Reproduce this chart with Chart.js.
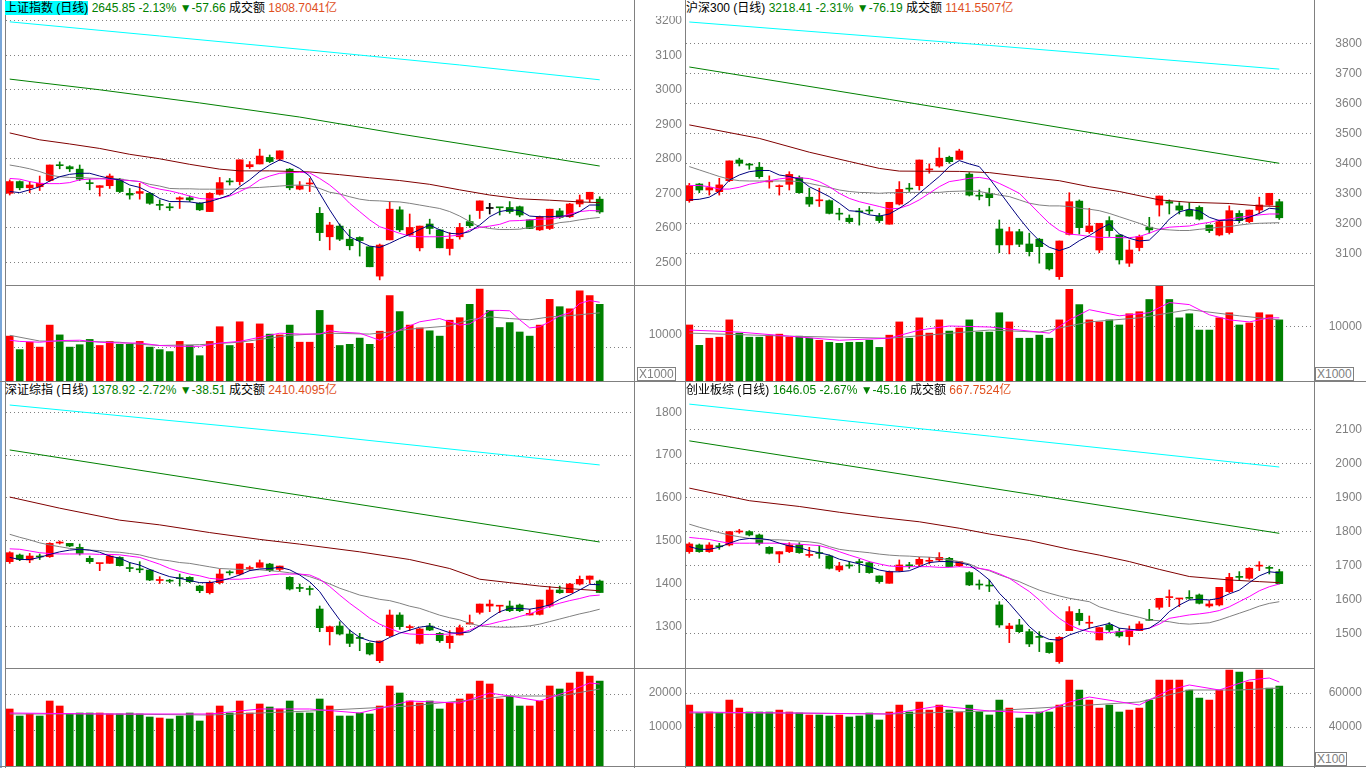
<!DOCTYPE html>
<html>
<head>
<meta charset="utf-8">
<script src="https://cdn.jsdelivr.net/npm/chart.js@4.4.1/dist/chart.umd.min.js"></script>
<style>
body { margin:0; background:#fff; width:1366px; height:768px; overflow:hidden; position:relative;
       font-family:"Liberation Sans", Arial, "Noto Sans CJK SC", sans-serif; }
canvas, .ln, .ttl, .unit { position:absolute; }
.ln { background:#808080; }
.ttl { font-size:12px; line-height:15px; white-space:nowrap; color:#000; }
.g { color:#008000; }
.o { color:#e0501e; }
.unit { border:1px solid #808080; color:#808080; font-size:12px; line-height:12px; padding:0 1px; background:#fff; }
</style>
</head>
<body>
<div class="ln" style="left:0;top:0;width:2px;height:768px;background:#7aa7d8"></div>
<div class="ln" style="left:5px;top:0;width:1px;height:768px"></div>
<div class="ln" style="left:634px;top:0;width:1px;height:768px"></div>
<div class="ln" style="left:685px;top:0;width:1px;height:768px"></div>
<div class="ln" style="left:1314px;top:0;width:1px;height:768px"></div>
<div class="ln" style="left:5px;top:285px;width:1310px;height:1px"></div>
<div class="ln" style="left:0;top:381px;width:1366px;height:1px"></div>
<div class="ln" style="left:5px;top:668px;width:1310px;height:1px"></div>
<div class="ln" style="left:0;top:766px;width:1366px;height:1px"></div>

<canvas id="tlP" width="628" height="269" style="left:6px;top:16px"></canvas>
<canvas id="tlV" width="628" height="95" style="left:6px;top:286px"></canvas>
<canvas id="trP" width="727" height="269" style="left:635px;top:16px"></canvas>
<canvas id="trV" width="727" height="95" style="left:635px;top:286px"></canvas>
<canvas id="blP" width="628" height="270" style="left:6px;top:398px"></canvas>
<canvas id="blV" width="628" height="97" style="left:6px;top:669px"></canvas>
<canvas id="brP" width="727" height="270" style="left:635px;top:398px"></canvas>
<canvas id="brV" width="727" height="97" style="left:635px;top:669px"></canvas>

<div class="ttl" style="left:5px;top:1px"><span style="background:#00ffff">上证指数 (日线)</span> <span class="g">2645.85 -2.13% ▼-57.66</span> 成交额 <span class="o">1808.7041亿</span></div>
<div class="ttl" style="left:686px;top:1px">沪深300 (日线) <span class="g">3218.41 -2.31% ▼-76.19</span> 成交额 <span class="o">1141.5507亿</span></div>
<div class="ttl" style="left:5px;top:383px">深证综指 (日线) <span class="g">1378.92 -2.72% ▼-38.51</span> 成交额 <span class="o">2410.4095亿</span></div>
<div class="ttl" style="left:686px;top:383px">创业板综 (日线) <span class="g">1646.05 -2.67% ▼-45.16</span> 成交额 <span class="o">667.7524亿</span></div>
<div class="unit" style="left:637px;top:367px">X1000</div>
<div class="unit" style="left:1315px;top:367px">X1000</div>
<div class="unit" style="left:1315px;top:752px">X100</div>

<script>
// ---- 上证指数 ----
var shOpen  = [2700,2734,2716,2719,2737,2782,2777,2770,2730,2717,2722,2741,2700,2700,2700,2666,2659,2683,2687,2671,2647,2697,2734,2734,2777,2785,2804,2799,2770,2712,2727,2642,2574,2605,2567,2572,2545,2460,2565,2652,2579,2542,2611,2594,2540,2574,2618,2650,2656,2659,2659,2661,2623,2594,2598,2649,2632,2669,2683,2683];
var shHigh  = [2739,2736,2734,2750,2782,2791,2780,2782,2741,2722,2756,2743,2714,2729,2702,2681,2671,2690,2692,2673,2702,2746,2743,2797,2792,2828,2811,2823,2772,2734,2743,2659,2616,2611,2595,2574,2545,2553,2676,2661,2640,2605,2625,2595,2586,2613,2637,2678,2671,2659,2676,2663,2623,2634,2654,2656,2671,2695,2703,2690];
var shLow   = [2695,2710,2702,2708,2734,2771,2763,2737,2710,2692,2714,2702,2683,2683,2668,2652,2650,2656,2676,2650,2647,2695,2724,2724,2772,2785,2789,2795,2710,2710,2705,2563,2536,2563,2536,2518,2487,2449,2565,2589,2576,2533,2582,2542,2521,2567,2601,2627,2640,2637,2642,2632,2598,2592,2595,2627,2630,2661,2674,2642];
var shClose = [2734,2716,2724,2729,2782,2780,2771,2741,2728,2722,2750,2705,2695,2705,2671,2665,2658,2687,2681,2652,2700,2731,2733,2797,2783,2808,2792,2823,2716,2722,2730,2586,2608,2567,2548,2563,2487,2550,2654,2594,2601,2605,2598,2542,2567,2601,2606,2678,2656,2658,2647,2637,2598,2632,2654,2630,2669,2681,2703,2646];
var shMa5  = [2705,2702,2710,2719,2736,2748,2755,2758,2758,2750,2743,2739,2724,2717,2702,2685,2676,2676,2675,2671,2676,2685,2695,2719,2739,2763,2782,2797,2787,2772,2750,2700,2652,2608,2574,2560,2547,2543,2555,2569,2581,2595,2608,2594,2584,2582,2589,2608,2632,2647,2652,2650,2634,2632,2632,2634,2634,2647,2666,2666];
var shMa10 = [2743,2741,2734,2729,2728,2728,2731,2739,2741,2742,2741,2739,2737,2734,2719,2712,2707,2700,2692,2685,2683,2685,2692,2705,2719,2739,2750,2758,2760,2761,2759,2743,2724,2700,2671,2647,2623,2603,2594,2584,2576,2574,2574,2574,2576,2579,2594,2601,2605,2610,2620,2621,2623,2625,2626,2630,2640,2647,2650,2649];
var shMa20 = [2782,2777,2771,2763,2753,2748,2746,2746,2744,2743,2743,2741,2737,2734,2726,2721,2714,2713,2713,2712,2712,2712,2712,2713,2716,2717,2719,2721,2723,2724,2722,2714,2703,2698,2690,2683,2679,2678,2676,2675,2671,2666,2661,2656,2647,2634,2618,2603,2598,2595,2595,2596,2601,2605,2608,2615,2618,2623,2627,2630];
var shMa60Idx = [0,3,6,9,12,15,18,21,23,26,30,33,36,39,42,45,48,51,54,57,59];
var shMa60 = [2875,2855,2843,2830,2813,2800,2784,2770,2765,2765,2762,2754,2745,2737,2726,2710,2695,2684,2680,2675,2673];
var shMa120Idx = [0,9,19,29,39,49,59];
var shMa120 = [3031,3000,2962,2921,2872,2826,2779];
var shMa250Idx = [0,15,30,45,59];
var shMa250 = [3197,3156,3115,3072,3029];
var shVol = [13600,9510,11760,10270,16940,13970,10270,11000,12600,10760,12000,11120,11120,12000,10270,9510,8910,12000,10760,7670,12000,16450,10760,17940,11390,17300,14210,13970,16940,11760,11760,21390,16940,10760,11120,13000,11120,15090,25850,21030,16940,16090,15210,13600,18420,19180,23240,27820,21390,16210,17700,14850,13600,16940,24730,22510,21880,27330,25850,23240];
var shVolMa5Idx = [0,1,3,5,7,9,11,13,15,17,19,21,23,25,27,29,31,32,33,35,37,39,41,43,44,45,46,47,48,49,50,51,52,53,54,55,56,57,58,59];
var shVolMa5 = [12360,12000,11760,12240,12360,11760,11510,11510,10760,10510,10510,11510,12000,13240,14480,14220,14220,15210,14850,14480,12360,15450,17940,18910,17940,16940,17300,19180,21390,21390,21270,18540,16090,16450,17940,19790,20660,23510,24360,23870];
var shVolMa10Idx = [0,3,7,11,13,15,19,23,28,32,36,38,40,44,46,48,50,52,54,56,59];
var shVolMa10 = [13850,12120,12000,11750,11130,10760,11010,11750,13850,14470,14220,14840,15710,16700,18550,19420,18920,18550,19420,19790,20650];

// ---- 沪深300 ----
var hsOpen  = [3275.5,3331,3311,3305.5,3342,3411,3395,3387,3338,3322,3330,3352,3287,3275,3275.5,3231.5,3217,3239,3242,3224,3197,3264,3315,3325.5,3378,3391,3420,3413,3364,3291.5,3300,3181,3128,3172,3131,3147,3100,3022,3163,3274,3172,3111,3209,3161,3067,3119,3187,3261,3272,3258,3244,3253,3194,3161,3169,3233,3205.5,3244,3261,3272];
var hsHigh  = [3333,3333,3337,3350,3408,3417,3400,3403,3358,3328,3372,3358,3317,3317,3278,3250,3228,3250,3256,3233,3270,3339,3333,3411,3398,3452,3424,3447,3369,3311,3317,3211,3187,3180,3167,3150,3100,3141,3302,3278,3250,3200,3222,3161,3144,3161,3220,3291,3278,3269,3269,3258,3194,3209,3258,3242,3244,3287,3300,3280];
var hsLow   = [3270,3302,3294,3294,3339,3391,3380,3350,3317,3294,3311,3300,3256,3256,3231,3211,3200,3194,3231,3202,3197,3261,3306,3311,3367,3387,3400,3413,3291,3278,3258,3102,3098,3122,3091,3067,3044,3013,3161,3164,3167,3102,3156,3064,3056,3108,3167,3224,3231,3231,3224,3211,3169,3158,3164,3202,3202,3233,3260,3213];
var hsClose = [3325.5,3311,3319,3328,3408,3400,3394,3355.5,3341,3324.5,3363,3302,3264,3278,3233,3230.5,3205.5,3238,3241,3209,3270,3313,3314,3411,3380,3417,3405.5,3441,3294,3290.5,3285.5,3128,3172,3130,3105.5,3122,3048,3141,3272,3185.5,3191,3200,3175.5,3078,3111,3155.5,3178,3291,3267,3244,3224,3214,3175.5,3205.5,3242,3209,3244,3261,3300,3218.4];
var hsMa5  = [3278,3280,3287,3306,3344,3361,3372,3376,3376,3361,3356,3347,3322,3306,3289,3267,3242,3239,3228,3224,3231,3250,3272,3300,3328,3356,3389,3409,3398,3389,3350,3306,3261,3217,3176,3142,3120,3109,3120,3142,3159,3180,3198,3164,3150,3141,3144,3176,3214,3238,3247,3241,3220,3209,3211,3209,3220,3233,3250,3247];
var hsMa10 = [3326,3326,3322,3314,3314,3320,3330,3336,3342,3348,3352,3352,3349,3339,3322,3300,3283,3272,3264,3256,3248,3250,3261,3278,3300,3322,3339,3344,3350,3353,3347,3333,3317,3300,3267,3233,3200,3176,3164,3161,3156,3153,3153,3152,3152,3156,3167,3180,3187,3189,3191,3198,3203,3211,3214,3220,3224,3228,3231,3231];
var hsMa20 = [3389,3378,3367,3356,3347,3342,3341,3341,3341,3341,3341,3339,3333,3326,3319,3311,3306,3303,3302,3300,3302,3302,3303,3303,3303,3303,3306,3307,3308,3306,3300,3294,3289,3278,3267,3261,3258,3258,3256,3250,3247,3242,3233,3222,3211,3200,3187,3180,3178,3176,3176,3180,3183,3187,3189,3194,3198,3200,3201,3202];
var hsMa60Idx = [0,7,12,16,19,21,27,30,34,37,40,43,47,50,54,57,59];
var hsMa60 = [3528,3483,3437,3406,3383,3374,3373,3369,3353,3342,3322,3306,3278,3270,3266,3258,3256];
var hsMa120Idx = [0,20,44,59];
var hsMa120 = [3721,3613,3481,3400];
var hsMa250Idx = [0,30,59];
var hsMa250 = [3871,3793,3714];
var hsVol = [10318,6566,7879,8067,11256,8817,8067,8067,8442,8630,8067,8254,7879,7504,7129,6941,7129,7129,7504,6191,8442,10881,7879,11631,8817,11256,9192,9755,11256,9005,9005,12569,10881,7879,7879,8442,7879,11256,16884,14070,11256,10881,11256,10318,12382,12757,15008,17447,15008,11631,12382,9380,9380,11631,12569,10318,10693,12569,12194,11256];
var hsVolMa5Idx = [0,5,10,15,20,23,26,30,33,36,38,40,43,46,48,50,52,54,56,58,59];
var hsVolMa5 = [9380,9005,8255,7504,7879,9380,10130,9943,9380,8817,11256,13132,12007,12570,14446,14070,12195,11256,10881,11631,11631];
var hsVolMa10Idx = [0,10,20,30,35,40,45,50,55,59];
var hsVolMa10 = [8817,8255,7879,9380,9005,10881,11631,13132,12007,11256];

// ---- 深证综指 ----
var szOpen  = [1451,1466.5,1455,1463,1462.6,1494.5,1493.8,1484.4,1458.8,1446.5,1447.1,1461,1436,1433,1431.5,1407,1406,1412,1414.4,1394.1,1378.5,1401.9,1425.5,1422.2,1435,1437.7,1445.5,1433,1414.4,1389,1386.5,1340.4,1287.4,1300.7,1282,1272,1260.2,1219.7,1278.1,1326.4,1297,1260.2,1300.7,1283.6,1261.8,1279.7,1305.3,1332.6,1347.4,1347,1347.4,1349.7,1326.4,1327.9,1347.4,1384.8,1378.5,1398.8,1409.7,1405.8];
var szHigh  = [1474.3,1468.9,1470.4,1469,1495.3,1499.2,1493.8,1492.2,1464.2,1447.1,1466.5,1462.6,1448.6,1451,1433,1415.9,1409.7,1422.2,1415.9,1395.7,1405.8,1433,1430,1445.5,1440.8,1454.9,1447.1,1440.8,1415.9,1398.8,1394.1,1347.4,1300.7,1310.8,1291.3,1283.6,1261.8,1265.6,1338.1,1331.8,1303,1295.2,1306.9,1285.9,1289.8,1303,1326.4,1352,1361.4,1347.4,1359.1,1352,1339.6,1361.4,1392.6,1394.1,1400.3,1417.5,1417.5,1408.1];
var szLow   = [1447,1453.3,1448.6,1456,1461,1492.2,1486,1466.5,1447,1430,1447.1,1440.8,1427.6,1425.3,1406.6,1400.3,1401.9,1394.1,1401.9,1378.5,1375.4,1398.8,1419.8,1419.8,1430,1437.7,1427.6,1430,1384.8,1380.9,1373.1,1287.4,1256.3,1279.7,1252.4,1243,1233,1215,1275.8,1292.9,1289.8,1258.6,1289.8,1262.5,1248.5,1279.7,1305.3,1328.7,1334.2,1331.8,1334.2,1334.2,1326.4,1326.4,1344.3,1377,1378.5,1396.4,1400.3,1378.5];
var szClose = [1472,1456.4,1464.2,1462,1493.8,1495.3,1487.6,1470.4,1451,1447.1,1464.2,1441.6,1435,1432,1408.1,1408.3,1405.5,1411.4,1404.2,1383.2,1402.7,1422.2,1425,1445.5,1436,1448.6,1430,1440.8,1387.1,1388.5,1386,1296.8,1299,1282,1260.2,1271.7,1235.3,1265.6,1326.4,1299.1,1298.3,1293.7,1291.3,1266.4,1277.3,1296.8,1308.4,1352,1352,1347.4,1336.5,1336.5,1330.3,1361.4,1384.8,1378.5,1398.8,1409.7,1417.5,1378.9];
var szMa5  = [1461,1456,1456,1461,1468,1474,1478,1480,1478,1473,1464,1459,1449,1443,1433,1424,1416,1412,1407,1402,1402,1406,1412,1420,1430,1434,1435,1438,1432,1420,1404,1381,1347,1315,1291,1274,1266,1262,1274,1284,1291,1298,1301,1293,1285,1284,1287,1301,1319,1334,1342,1342,1340,1344,1350,1363,1373,1385,1398,1397];
var szMa10 = [1481,1480,1476,1472,1470,1469,1469,1469,1469,1468,1468,1467,1464,1461,1453,1445,1435,1428,1422,1418,1412,1410,1410,1410,1412,1416,1420,1422,1422,1422,1420,1410,1393,1373,1354,1337,1319,1305,1295,1286,1282,1281,1281,1281,1282,1284,1291,1301,1305,1311,1316,1323,1329,1338,1347,1354,1360,1365,1371,1373];
var szMa20 = [1515,1508,1502,1495,1490,1486,1482,1480,1478,1477,1474,1473,1470,1467,1461,1456,1453,1449,1447,1443,1439,1435,1434,1433,1432,1432,1430,1428,1425,1422,1416,1408,1399,1389,1381,1373,1368,1363,1360,1354,1347,1342,1334,1326,1320,1315,1307,1301,1299,1298,1298,1299,1301,1305,1311,1317,1323,1329,1334,1340];
var szMa60Idx = [0,5,11,15,20,25,29,35,40,44,47,50,53,56,59];
var szMa60 = [1602,1576,1548,1537,1519,1503,1492,1474,1456,1435,1410,1402,1394,1388,1383];
var szMa120Idx = [0,59];
var szMa120 = [1712,1497];
var szMa250Idx = [0,30,59];
var szMa250 = [1817,1749,1677];
var szVol = [15835,13890,14446,13890,18057,16668,14446,14723,14723,14723,14446,14446,14723,14446,13612,13334,13057,13890,14723,12501,14723,16668,14723,18057,14723,17224,16390,15835,18057,14723,14723,18613,16668,13890,13890,14723,14446,16668,22224,20279,18057,17501,18057,15835,17501,18613,20002,23613,22780,18613,19446,16668,16668,18057,22224,21391,23057,26113,25002,23613];
var szVolMa5Idx = [0,10,20,25,30,35,38,40,45,48,50,53,56,58,59];
var szVolMa5 = [14723,14446,14446,15835,15835,14723,16668,18057,17501,20279,19446,18057,20835,23057,22780];
var szVolMa10Idx = [0,10,20,30,40,45,50,55,59];
var szVolMa10 = [14446,14446,14168,15279,16668,18057,19446,19446,21391];

// ---- 创业板综 ----
var cyOpen  = [1740.2,1759.8,1740.2,1755,1759.8,1798,1799,1789.2,1752.9,1733.3,1740.2,1759.8,1729,1735,1727.5,1686.3,1698.5,1710.8,1707.8,1668.7,1647.1,1684.4,1699,1702.9,1711.8,1715.7,1720.6,1699,1678.5,1642.4,1639.4,1583.4,1513.8,1524.6,1504.9,1488.5,1472.6,1416.8,1507.9,1558.9,1529.6,1480.5,1524.6,1504.9,1490.3,1507.9,1540,1576.5,1605,1601,1603.5,1612.8,1580.4,1583.4,1622.6,1665,1661.8,1697.5,1691.5,1681.4];
var cyHigh  = [1766.6,1762.7,1766.6,1764.7,1799,1805.9,1801.9,1792.1,1754.9,1740.2,1766.6,1766.6,1752.9,1756.9,1730.4,1708.8,1710.8,1717.6,1710.8,1668.7,1683.4,1715.7,1708.8,1723.5,1723.5,1737.3,1723.5,1710.8,1681.4,1656.9,1656.9,1593.2,1529.5,1541.2,1511.9,1504.9,1472.6,1490.3,1578.5,1570.7,1551,1516.8,1531.5,1514.8,1521.6,1534.4,1570.7,1603,1627.5,1601.5,1625.5,1615.7,1596.1,1635.3,1676.5,1681.4,1693.2,1710.8,1698,1688.3];
var cyLow   = [1735.3,1738.2,1738.2,1747,1756.9,1794.1,1786.3,1759.8,1733.3,1707.8,1737.3,1735.3,1723.5,1720.6,1689.2,1681.4,1691.2,1678.5,1676.5,1647.1,1647.1,1681.4,1691.2,1698,1703.9,1710.8,1696.1,1696.1,1640.2,1629.4,1622.6,1517.7,1472.6,1502,1460.9,1446.2,1441.3,1411.9,1507.9,1524.6,1514.8,1480.5,1505,1488.3,1465.8,1507.9,1537.3,1570.7,1578.5,1578.5,1600,1586.3,1576.5,1580.4,1619.6,1656.9,1658.8,1684.3,1674.5,1645.1];
var cyClose = [1762.7,1740.2,1759.8,1754.5,1799,1799,1789.2,1764.7,1735.3,1740.2,1759.8,1737.3,1730.4,1734.5,1691.2,1698,1698,1707.8,1678.5,1652,1681.4,1701,1698.5,1717.6,1712.8,1723.5,1696.1,1710.8,1642.2,1642,1639,1524.6,1521.6,1504.9,1468.7,1488,1443.3,1488.3,1563.8,1537.3,1530.6,1516.8,1509.9,1492.3,1509.9,1527.5,1538.2,1603,1606,1601.5,1603,1588.3,1586.3,1635.3,1664.7,1664.5,1691.2,1698.1,1691,1646.1];
var cyMa5  = [1755,1747,1747,1753,1765,1775,1779,1779,1775,1765,1757,1752,1743,1737,1730,1718,1711,1704,1696,1686,1681,1681,1684,1696,1708,1711,1711,1708,1701,1681,1657,1618,1588,1554,1520,1495,1482,1480,1495,1505,1515,1522,1529,1515,1512,1510,1515,1534,1564,1583,1598,1600,1598,1603,1616,1627,1649,1669,1681,1678];
var cyMa10 = [1782,1779,1776,1770,1765,1765,1765,1765,1765,1765,1763,1762,1760,1758,1750,1740,1730,1721,1711,1704,1698,1696,1696,1696,1696,1694,1694,1696,1694,1691,1686,1675,1662,1642,1623,1598,1569,1544,1525,1512,1505,1502,1502,1505,1508,1510,1515,1527,1544,1549,1554,1557,1561,1567,1578,1593,1608,1625,1637,1645];
var cyMa20 = [1821,1812,1804,1796,1789,1784,1779,1776,1775,1775,1773,1771,1769,1765,1755,1747,1743,1740,1737,1733,1730,1728,1727,1725,1724,1721,1716,1711,1704,1691,1684,1672,1662,1652,1639,1627,1618,1610,1603,1598,1593,1578,1569,1561,1554,1547,1539,1537,1534,1529,1527,1529,1531,1539,1549,1559,1569,1580,1588,1593];
var cyMa60Idx = [0,6,11,15,19,23,27,30,34,38,41,44,47,50,54,57,59];
var cyMa60 = [1927,1890,1873,1856,1841,1828,1809,1792,1773,1747,1730,1711,1688,1667,1657,1652,1649];
var cyMa120Idx = [0,59];
var cyMa120 = [2066,1794];
var cyMa250Idx = [0,30,59];
var cyMa250 = [2174,2080,1989];
var cyVol = [52942,48236,48824,48236,55883,51177,48824,48824,48824,50001,48824,48236,47060,47060,46471,47060,45883,46471,48236,44119,48824,52942,48824,54706,50001,52942,50001,48824,52942,48824,47060,55883,51177,45295,47060,48824,48824,52942,67647,61765,55883,51177,52942,48824,50001,51177,55883,67647,67647,67647,61765,57059,55883,61765,73529,72352,66470,73529,62941,64117];
var cyVolMa5Idx = [0,10,20,25,30,35,38,40,45,48,50,53,56,58,59];
var cyVolMa5 = [48824,48236,47648,52354,49413,48236,54706,57647,52942,61765,64706,61765,67647,68823,66470];
var cyVolMa10Idx = [0,10,20,30,40,45,50,55,59];
var cyVolMa10 = [48236,48236,47648,49413,52942,54706,61765,61765,62941];

// ---- axis ticks ----
var shTicks = [2500,2600,2700,2800,2900,3000,3100,3200];
var hsTicks = [3100,3200,3300,3400,3500,3600,3700,3800];
var szTicks = [1300,1400,1500,1600,1700,1800];
var cyTicks = [1500,1600,1700,1800,1900,2000,2100];
var volTicks10k = [10000];
var szVolTicks = [10000,20000];
var cyVolTicks = [40000,60000];

var UP = '#ff0000', DOWN = '#008000', FLAT = '#000000';
var GRID = '#808080';
Chart.defaults.font.family = '"Liberation Sans", Arial, sans-serif';
Chart.defaults.font.size = 12;

function candleColors(o, c) {
    return o.map(function (v, i) { return c[i] > v ? UP : (c[i] < v ? DOWN : FLAT); });
}
function volColors(o, c) {
    return o.map(function (v, i) { return c[i] > v ? UP : DOWN; });
}

function candles(o, h, l, c, axis) {
    var col = candleColors(o, c);
    return [
        { type: 'bar', yAxisID: axis, data: o.map(function (v, i) { return { x: i, y: [l[i], h[i]] }; }),
          backgroundColor: col, barThickness: 1, grouped: false, order: 3 },
        { type: 'bar', yAxisID: axis, data: o.map(function (v, i) { return { x: i, y: [v, c[i]] }; }),
          backgroundColor: col, barThickness: 7, minBarLength: 1, grouped: false, order: 2 }
    ];
}

function line(idx, vals, color, axis) {
    return {
        type: 'line', yAxisID: axis,
        data: vals.map(function (v, k) { return { x: idx ? idx[k] : k, y: v }; }),
        borderColor: color, borderWidth: 1, pointRadius: 0, tension: 0, fill: false, spanGaps: true, order: 0
    };
}

function yAxis(pos, min, max, ticks, width, labels, grid) {
    return {
        type: 'linear', position: pos, min: min, max: max,
        afterBuildTicks: function (a) { a.ticks = ticks.map(function (v) { return { value: v }; }); },
        afterFit: function (a) {
            // fixed axis width and no label padding, so the plot keeps the full height
            a.width = width;
            a.paddingTop = 0;
            a.paddingBottom = 0;
        },
        grid: { display: grid, color: GRID, drawTicks: false },
        border: { display: false, dash: [1, 3] },
        ticks: { display: labels, color: GRID, padding: 4, crossAlign: pos === 'right' ? 'far' : 'near',
                 autoSkip: false, callback: function (v) { return String(v); } }
    };
}

function xAxis(left) {
    // candle i sits at 9.7 + 10*i px (left panels) / 689.3 + 10*i px (right panels)
    var min = left ? -0.37 : -0.33;
    return { type: 'linear', display: false, min: min, max: min + 62.8, offset: false };
}

function draw(id, datasets, scales) {
    new Chart(document.getElementById(id), {
        type: 'bar',
        data: { datasets: datasets },
        options: {
            responsive: false, animation: false, events: [], devicePixelRatio: 1,
            layout: { padding: 0, autoPadding: false },
            plugins: { legend: { display: false }, tooltip: { enabled: false } },
            scales: scales
        }
    });
}

function priceSets(o, h, l, c, m5, m10, m20, i60, m60, i120, m120, i250, m250, axis) {
    return [
        line(null, m5, '#000080', axis), line(null, m10, '#ff00ff', axis), line(null, m20, '#808080', axis),
        line(i60, m60, '#800000', axis), line(i120, m120, '#008000', axis), line(i250, m250, '#00ffff', axis)
    ].concat(candles(o, h, l, c, axis));
}

function volSets(vol, o, c, i5, m5, i10, m10, axis) {
    return [
        line(i5, m5, '#ff00ff', axis), line(i10, m10, '#808080', axis),
        { type: 'bar', yAxisID: axis, data: vol.map(function (v, i) { return { x: i, y: v }; }),
          backgroundColor: volColors(o, c), barThickness: 7, grouped: false, order: 1 }
    ];
}

// 上证指数
draw('tlP', priceSets(shOpen, shHigh, shLow, shClose, shMa5, shMa10, shMa20, shMa60Idx, shMa60, shMa120Idx, shMa120, shMa250Idx, shMa250, 'y'),
    { x: xAxis(true), y: yAxis('left', 2434.2, 3213.9, shTicks, 0, false, true) });
draw('tlV', volSets(shVol, shOpen, shClose, shVolMa5Idx, shVolMa5, shVolMa10Idx, shVolMa10, 'y'),
    { x: xAxis(true), y: yAxis('left', 0, 28785, volTicks10k, 0, false, true) });

// 沪深300
draw('trP', priceSets(hsOpen, hsHigh, hsLow, hsClose, hsMa5, hsMa10, hsMa20, hsMa60Idx, hsMa60, hsMa120Idx, hsMa120, hsMa250Idx, hsMa250, 'yR'),
    { x: xAxis(false), yL: yAxis('left', 2434.2, 3213.9, shTicks, 51, true, false), yR: yAxis('right', 2994.3, 3891, hsTicks, 48, true, true) });
draw('trV', volSets(hsVol, hsOpen, hsClose, hsVolMa5Idx, hsVolMa5, hsVolMa10Idx, hsVolMa10, 'yR'),
    { x: xAxis(false), yL: yAxis('left', 0, 20652, volTicks10k, 51, true, false), yR: yAxis('right', 0, 17495, volTicks10k, 48, true, true) });

// 深证综指
draw('blP', priceSets(szOpen, szHigh, szLow, szClose, szMa5, szMa10, szMa20, szMa60Idx, szMa60, szMa120Idx, szMa120, szMa250Idx, szMa250, 'y'),
    { x: xAxis(true), y: yAxis('left', 1202.6, 1833.4, szTicks, 0, false, true) });
draw('blV', volSets(szVol, szOpen, szClose, szVolMa5Idx, szVolMa5, szVolMa10Idx, szVolMa10, 'y'),
    { x: xAxis(true), y: yAxis('left', 0, 26947, szVolTicks, 0, false, true) });

// 创业板综
draw('brP', priceSets(cyOpen, cyHigh, cyLow, cyClose, cyMa5, cyMa10, cyMa20, cyMa60Idx, cyMa60, cyMa120Idx, cyMa120, cyMa250Idx, cyMa250, 'yR'),
    { x: xAxis(false), yL: yAxis('left', 1202.6, 1833.4, szTicks, 51, true, false), yR: yAxis('right', 1398, 2192, cyTicks, 48, true, true) });
draw('brV', volSets(cyVol, cyOpen, cyClose, cyVolMa5Idx, cyVolMa5, cyVolMa10Idx, cyVolMa10, 'yR'),
    { x: xAxis(false), yL: yAxis('left', -1469, 27058, szVolTicks, 51, true, false), yR: yAxis('right', 17061, 74117, cyVolTicks, 48, true, true) });
</script>
</body>
</html>
